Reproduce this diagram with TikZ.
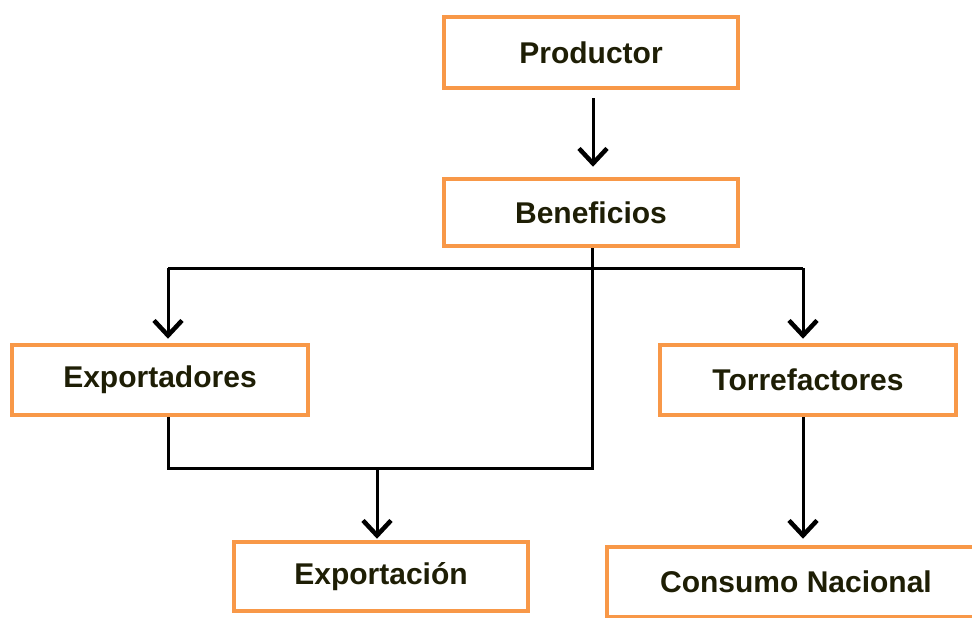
\documentclass[tikz,border=0pt]{standalone}
\usepackage{fontspec}
\setmainfont{Liberation Sans}
\usetikzlibrary{arrows.meta,calc}
\definecolor{boxorange}{RGB}{248,152,72}
\definecolor{txtdark}{RGB}{30,30,5}
\begin{document}
\begin{tikzpicture}[x=1pt,y=-1pt,
  box/.style={draw=boxorange,line width=4.5pt,fill=white,minimum width=294pt,minimum height=70pt,inner sep=0pt,
    font=\fontsize{30}{34}\selectfont\bfseries,text=txtdark},
  conn/.style={draw=black,line width=3pt},
  arr/.style={conn,-{Straight Barb[length=15pt,width=28pt,line width=4.5pt]}}]
\clip (0,0) rectangle (972,618);
\fill[white] (0,0) rectangle (972,618);
% nodes
\node[box,minimum height=71pt] (prod) at (591,52.5) {Productor};
\node[box,minimum height=67pt] (ben) at (591,212.5) {Beneficios};
\node[box,minimum width=296pt] (expo) at (160,380) {Exportadores};
\node[box,minimum width=296pt] (torr) at (808,380) {Torrefactores};
\node[box,minimum height=69pt] (expn) at (381,576.5) {Exportación};
\node[box,minimum width=378pt,minimum height=70pt] (cons) at (796,582) {Consumo Nacional};
% junction coordinates
\coordinate (jl) at (168,268);
\coordinate (jr) at (803,268);
\coordinate (jbl) at (168,468);
\coordinate (jbr) at (592,468);
\coordinate (jexp) at (377,468);
% connectors
\draw[arr,shorten <=8pt,shorten >=10pt] ([xshift=2pt]prod.south) -- ([xshift=2pt]ben.north);
\draw[conn] (jl) -- (jr);
\draw[conn] ([xshift=1pt]ben.south) -- (jbr) -- (jbl) -- (jbl |- expo.south);
\draw[arr,shorten >=4pt] (jl) -- (jl |- expo.north);
\draw[arr,shorten >=4pt] (jr) -- (jr |- torr.north);
\draw[arr,shorten >=1pt] (jexp) -- (jexp |- expn.north);
\draw[arr,shorten >=6pt] (torr.south -| jr) -- (jr |- cons.north);
\end{tikzpicture}
\end{document}
